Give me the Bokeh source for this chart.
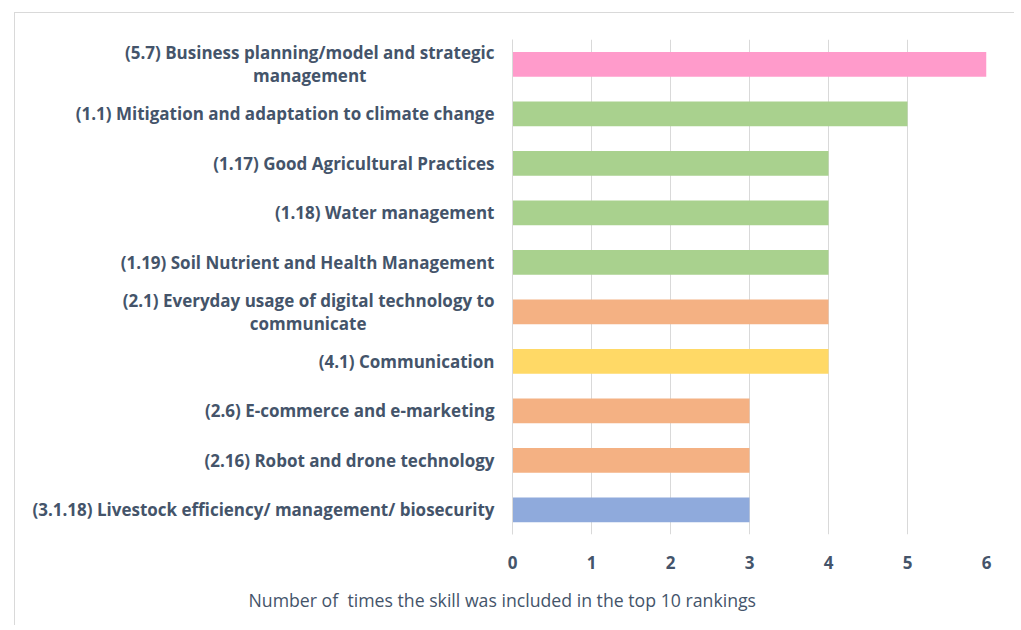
from bokeh.plotting import figure
from bokeh.models import Range1d, FactorRange, FixedTicker, Title
from bokeh.embed import file_html
from bokeh.resources import INLINE

NB = "\u00a0"
skills = [
    "(5.7) Business planning/model and strategic\nmanagement" + NB * 29,
    "(1.1) Mitigation and adaptation to climate change",
    "(1.17) Good Agricultural Practices",
    "(1.18) Water management",
    "(1.19) Soil Nutrient and Health Management",
    "(2.1) Everyday usage of digital technology to\ncommunicate" + NB * 29,
    "(4.1) Communication",
    "(2.6) E-commerce and e-marketing",
    "(2.16) Robot and drone technology",
    "(3.1.18) Livestock efficiency/ management/ biosecurity",
]
counts = [6, 5, 4, 4, 4, 4, 4, 3, 3, 3]
colors = ["#FF9BCB", "#A9D18E", "#A9D18E", "#A9D18E", "#A9D18E",
          "#F4B183", "#FFD966", "#F4B183", "#F4B183", "#8FAADC"]
x_ticks = [0, 1, 2, 3, 4, 5, 6]
x_title = "Number of " + NB + "times the skill was included in the top 10 rankings"

TXT = "#44546A"
FONT = "Open Sans"

p = figure(width=1000, height=613, margin=(12, 0, 0, 14),
           y_range=FactorRange(factors=list(reversed(skills)), range_padding=0),
           x_range=Range1d(0, 6),
           output_backend="svg", toolbar_location=None,
           min_border_left=497, min_border_right=29,
           min_border_top=26, min_border_bottom=92,
           styles={"border-top": "1px solid #D9D9D9", "border-left": "1px solid #D9D9D9"})

p.hbar(y=skills, right=counts, left=0, height=0.5, fill_color=colors, line_color=None)

p.outline_line_color = None
p.ygrid.grid_line_color = None
p.xgrid.grid_line_color = "#D9D9D9"
p.xgrid.grid_line_width = 1
p.xaxis.ticker = FixedTicker(ticks=x_ticks)
p.xaxis.axis_line_color = None
p.xaxis.major_tick_line_color = None
p.xaxis.minor_tick_line_color = None
p.xaxis.major_label_text_font = FONT
p.xaxis.major_label_text_font_style = "bold"
p.xaxis.major_label_text_font_size = "17px"
p.xaxis.major_label_text_color = TXT
p.xaxis.major_label_standoff = 15

p.yaxis.axis_line_color = "#D9D9D9"
p.yaxis.major_tick_line_color = None
p.yaxis.minor_tick_line_color = None
p.yaxis.major_label_text_font = FONT
p.yaxis.major_label_text_font_style = "bold"
p.yaxis.major_label_text_font_size = "17px"
p.yaxis.major_label_text_line_height = 1.0
p.yaxis.major_label_text_color = TXT
p.yaxis.major_label_standoff = 12

p.add_layout(Title(text=x_title, align="left", offset=-264, standoff=28,
                   text_font=FONT, text_font_size="17.7px", text_font_style="normal",
                   text_color=TXT), "below")

open("out.html", "w").write(file_html(p, INLINE))
